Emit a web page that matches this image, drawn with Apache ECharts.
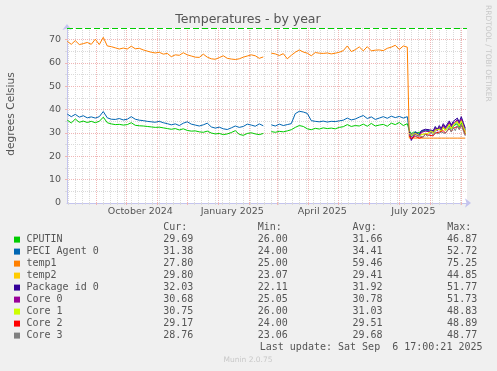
<!DOCTYPE html>
<html><head><meta charset="utf-8">
<script src="https://cdn.jsdelivr.net/npm/echarts@6/dist/echarts.min.js"></script>
<style>html,body{margin:0;padding:0;background:#f0f0f0;}#c{width:497px;height:371px;}</style>
</head><body><div id="c"></div>
<script>
// ---------- data ----------
const seriesNames = ['CPUTIN','PECI Agent 0','temp1','temp2','Package id 0','Core 0','Core 1','Core 2','Core 3'];
const seriesColors = ['#00cc00','#0066b3','#ff8000','#ffcc00','#330099','#990099','#ccff00','#ff0000','#808080'];
const curVals = ['29.69','31.38','27.80','29.80','32.03','30.68','30.75','29.17','28.76'];
const minVals = ['26.00','24.00','25.00','23.07','22.11','25.05','26.00','24.00','23.06'];
const avgVals = ['31.66','34.41','59.46','29.41','31.92','30.78','31.03','29.51','29.68'];
const maxVals = ['46.87','52.72','75.25','44.85','51.77','51.73','48.83','48.89','48.77'];
const yTickLabels = [0,10,20,30,40,50,60,70];
const yMinorTicks = [5,15,25,35,45,55,65];
const warningLevel = 75;
const xLabelTexts = ['October 2024','January 2025','April 2025','July 2025'];
const xLabelDates = ['2024-10-15','2025-01-15','2025-04-15','2025-07-15'];
const monthStarts = ['2024-09-01','2024-10-01','2024-11-01','2024-12-01','2025-01-01','2025-02-01','2025-03-01','2025-04-01','2025-05-01','2025-06-01','2025-07-01','2025-08-01','2025-09-01'];

// period A: every 4 days from 2024-08-03 ; period B: every 2 days from 2025-07-11
const cputinA = [35.5,34.3,36.0,34.6,35.1,34.5,35.0,34.4,35.0,36.8,
 34.4,33.9,33.6,33.7,33.4,33.6,34.4,33.3,33.1,33.0,
 32.8,32.6,32.4,32.5,32.2,31.9,31.6,31.9,31.3,31.8,
 31.1,30.8,30.9,30.5,30.3,30.8,30.0,29.6,29.8,29.3,
 29.6,30.2,31.0,29.4,29.0,29.8,30.1,29.6,29.3,29.8,
 null,30.6,30.3,30.7,30.5,30.9,31.4,32.4,33.2,32.8,
 31.8,31.4,32.0,31.7,32.2,31.9,32.1,31.8,32.4,32.7,
 33.6,32.8,33.2,33.0,33.8,32.9,34.1,33.0,33.4,33.7,
 32.9,34.2,33.6,34.5,33.2,34.0];
const peciA = [38.1,37.0,38.0,36.8,37.4,36.5,36.9,36.4,37.0,39.2,
 36.5,35.9,35.8,36.2,35.6,35.9,37.0,35.9,35.5,35.3,
 35.0,34.8,34.6,35.0,34.4,34.0,33.5,33.9,33.2,34.2,
 34.8,33.8,33.4,33.0,33.5,34.2,32.6,32.1,32.5,31.8,
 31.5,32.2,33.0,32.4,32.8,33.8,33.4,32.9,33.9,33.1,
 null,33.5,33.0,33.8,33.2,33.6,34.0,38.3,39.3,39.0,
 38.4,35.3,35.0,34.8,35.1,34.7,35.0,34.9,35.2,35.5,
 36.4,35.6,36.0,36.8,37.5,36.2,36.9,35.8,36.4,37.0,
 36.3,37.2,36.6,37.1,36.4,37.0];
const temp1A = [69.3,68.0,69.6,67.9,68.3,68.8,68.0,70.2,67.9,71.0,
 67.3,67.0,66.5,66.0,66.4,66.0,67.2,66.1,66.3,65.6,
 65.1,64.6,64.3,64.6,63.8,64.1,62.7,63.5,63.3,64.4,
 63.5,63.0,62.5,62.4,63.8,62.5,61.8,61.6,62.3,63.1,
 62.0,61.7,61.5,61.8,62.5,63.0,63.5,63.1,62.0,62.6,
 null,64.2,63.9,63.2,64.0,61.8,63.3,64.6,65.6,64.7,
 64.2,63.1,64.5,64.2,64.1,64.3,63.9,64.2,64.6,65.3,
 67.3,64.9,65.7,66.9,65.2,67.0,65.2,65.5,65.6,65.3,
 66.3,66.8,67.6,65.8,67.3,66.8];

const cputinB = [31.0,29.5,30.4,30.8,30.2,29.8,30.4,30.0,31.0,30.2,30.6,31.2,30.2,31.6,30.8,32.0,31.0,32.4,31.2,32.0,33.0,31.6,33.0,32.2,34.0,32.4,34.4,32.0,29.69];
const peciB = [30.8,28.2,29.4,30.6,30.0,29.4,30.8,30.2,31.2,30.6,31.0,31.8,30.8,32.4,31.2,32.8,31.6,33.4,32.2,33.2,34.6,32.8,34.6,33.6,35.8,34.2,36.2,33.8,31.38];
const temp1B = [27.8,27.8,27.8,27.8,27.8,27.8,27.8,27.8,27.8,27.8,27.8,27.8,27.8,27.8,27.8,27.8,27.8,27.8,27.8,27.8,27.8,27.8,27.8,27.8,27.8,27.8,27.8,27.8,27.8];
const temp2B = [30.2,29.0,29.6,30.0,29.4,29.1,29.8,29.6,30.4,29.8,30.2,31.0,30.0,31.4,30.6,31.8,30.8,32.6,31.2,32.4,33.8,32.0,33.6,32.8,35.0,33.2,36.0,33.0,29.8];
const packageB = [30.5,26.8,28.5,30.2,30.0,29.2,31.0,30.5,31.6,30.8,31.4,32.2,31.0,32.8,31.5,33.2,32.0,34.0,32.6,33.8,35.2,33.4,35.0,34.2,36.4,34.8,37.0,34.5,32.03];
const core0B = [29.5,27.5,28.2,29.4,29.0,28.6,30.2,29.6,30.8,30.0,30.6,31.4,30.2,32.0,30.8,32.4,31.2,33.2,31.8,33.0,34.5,32.6,34.2,33.4,35.6,34.0,36.0,33.5,30.68];
const core1B = [30.0,28.8,29.5,29.8,29.2,29.0,29.6,29.4,30.2,29.6,30.0,30.8,29.8,31.2,30.4,31.6,30.6,32.4,31.0,32.2,33.6,31.8,33.4,32.6,34.8,33.0,35.2,32.8,30.75];
const core2B = [28.8,27.6,28.0,28.6,28.2,27.8,28.6,28.4,29.4,28.8,29.0,29.8,28.8,30.0,29.4,30.4,29.6,31.0,30.0,30.8,31.8,30.6,32.0,31.2,32.8,31.6,33.4,31.4,29.17];
const core3B = [29.0,28.4,29.8,28.6,28.0,28.8,29.2,28.2,29.6,28.6,29.4,30.2,29.0,30.6,29.6,30.2,30.4,31.2,29.8,31.0,32.4,30.4,32.4,31.0,33.2,31.4,33.8,31.0,28.76];

// ---------- build ----------
const DAY = 86400000;
const startA = Date.UTC(2024,7,3), stepA = 4;
const startB = Date.UTC(2025,6,11), stepB = 2;
const datesA = cputinA.map((_, i) => startA + i * stepA * DAY);
const datesB = cputinB.map((_, i) => startB + i * stepB * DAY);
const xMin = Date.UTC(2024,7,2,17), xMax = Date.UTC(2025,8,6,17);
const sundays = [];
for (let t = Date.UTC(2024,7,4); t < xMax; t += 7 * DAY) sundays.push(t);
const toTs = s => { const p = s.split('-').map(Number); return Date.UTC(p[0], p[1]-1, p[2]); };
const monthTs = monthStarts.map(toTs);
const labelTs = xLabelDates.map(toTs);

const zip = (d, v) => d.map((t, i) => [t, v[i]]);
const seriesData = [
  zip(datesA.concat(datesB), cputinA.concat(cputinB)),
  zip(datesA.concat(datesB), peciA.concat(peciB)),
  zip(datesA.concat(datesB), temp1A.concat(temp1B)),
  zip(datesB, temp2B),
  zip(datesB, packageB),
  zip(datesB, core0B),
  zip(datesB, core1B),
  zip(datesB, core2B),
  zip(datesB, core3B)
];

const AXC = '#c4c4ee', GREY = '#dadada', RED = '#f0b6b6', TXT = '#555';
const series = seriesData.map((d, k) => ({
  type: 'line', name: seriesNames[k], data: d, xAxisIndex: 0, yAxisIndex: 0,
  showSymbol: false, symbol: 'none', connectNulls: false, z: 3 + k,
  lineStyle: { color: seriesColors[k], width: 1 }, itemStyle: { color: seriesColors[k] },
  emphasis: { disabled: true }
}));
series[2].markLine = {
  silent: true, symbol: 'none', label: { show: false },
  lineStyle: { color: '#00cc00', type: [6, 3], width: 1.2 },
  data: [{ yAxis: warningLevel }]
};

const mono = '10px "DejaVu Sans Mono"';
const graphic = [
  { type: 'text', x: 248, y: 19.5, style: { text: 'Temperatures - by year', font: '12.5px "DejaVu Sans"', fill: TXT, align: 'center', verticalAlign: 'middle' } },
  { type: 'text', x: 11.5, y: 114, rotation: Math.PI / 2, style: { text: 'degrees Celsius', font: '10.6px "DejaVu Sans"', fill: TXT, align: 'center', verticalAlign: 'middle' } },
  { type: 'text', x: 487.5, y: 5, rotation: -Math.PI / 2, style: { text: 'RRDTOOL / TOBI OETIKER', font: '7.5px "DejaVu Sans"', fill: '#c8c8c8', align: 'left', verticalAlign: 'middle' } },
  { type: 'text', x: 248, y: 360, style: { text: 'Munin 2.0.75', font: '7.5px "DejaVu Sans"', fill: '#c8c8c8', align: 'center', verticalAlign: 'middle' } }
];
const colRight = [193.3, 287.8, 382.6, 477.2];
const headers = ['Cur:', 'Min:', 'Avg:', 'Max:'];
const headY = 227.7, rowY0 = 239.6, rowH = 12;
headers.forEach((h, c) => graphic.push({ type: 'text', x: colRight[c] - 30, y: headY, style: { text: h, font: mono, fill: TXT, align: 'left', verticalAlign: 'middle' } }));
seriesNames.forEach((n, k) => {
  const y = rowY0 + k * rowH;
  graphic.push({ type: 'rect', shape: { x: 14, y: y - 3, width: 6, height: 6 }, style: { fill: seriesColors[k] } });
  graphic.push({ type: 'text', x: 26.5, y: y, style: { text: n, font: mono, fill: TXT, align: 'left', verticalAlign: 'middle' } });
  [curVals, minVals, avgVals, maxVals].forEach((arr, c) => graphic.push({ type: 'text', x: colRight[c], y: y, style: { text: arr[k], font: mono, fill: TXT, align: 'right', verticalAlign: 'middle' } }));
});
graphic.push({ type: 'text', x: 482.5, y: rowY0 + 9 * rowH, style: { text: 'Last update: Sat Sep  6 17:00:21 2025', font: mono, fill: TXT, align: 'right', verticalAlign: 'middle' } });

const arrowLine = { show: true, lineStyle: { color: AXC, width: 1 }, symbol: ['none', 'arrow'], symbolSize: [7, 6], symbolOffset: [0, 4] };
const option = {
  animation: false, backgroundColor: '#f0f0f0',
  grid: { left: 67, top: 28, width: 400, height: 175, show: true, backgroundColor: '#ffffff', borderWidth: 0 },
  xAxis: [
    { type: 'value', min: xMin, max: xMax, position: 'bottom', z: 1, scale: true,
      axisLine: arrowLine,
      axisTick: { show: true, length: 2, customValues: sundays, lineStyle: { color: GREY } },
      axisLabel: { show: false },
      splitLine: { show: true, lineStyle: { color: GREY, type: [1, 1], width: 1 } } },
    { type: 'value', min: xMin, max: xMax, position: 'bottom', z: 2, scale: true,
      axisLine: { show: false },
      axisTick: { show: true, length: 2, customValues: monthTs, lineStyle: { color: RED } },
      axisLabel: { show: true, customValues: labelTs, margin: 4, color: TXT, fontSize: 9.5, fontFamily: 'DejaVu Sans',
        formatter: v => { let b = 0; labelTs.forEach((t, i) => { if (Math.abs(t - v) < Math.abs(labelTs[b] - v)) b = i; }); return xLabelTexts[b]; } },
      splitLine: { show: true, lineStyle: { color: RED, type: [1, 1], width: 1 } } }
  ],
  yAxis: [
    { type: 'value', min: 0, max: 75, position: 'left', z: 1,
      axisLine: arrowLine,
      axisTick: { show: true, length: 2, customValues: yMinorTicks, lineStyle: { color: GREY } },
      axisLabel: { show: true, customValues: yTickLabels, margin: 6, color: TXT, fontSize: 9.5, fontFamily: 'DejaVu Sans' },
      splitLine: { show: true, lineStyle: { color: GREY, type: [1, 1], width: 1 } } },
    { type: 'value', min: 0, max: 75, position: 'left', z: 2,
      axisLine: { show: false },
      axisTick: { show: true, length: 2, customValues: yTickLabels.slice(1), lineStyle: { color: RED } },
      axisLabel: { show: false },
      splitLine: { show: true, lineStyle: { color: RED, type: [1, 1], width: 1 } } }
  ],
  series: series,
  graphic: graphic
};
const chart = echarts.init(document.getElementById('c'), null, { renderer: 'canvas' });
chart.setOption(option);
</script></body></html>
